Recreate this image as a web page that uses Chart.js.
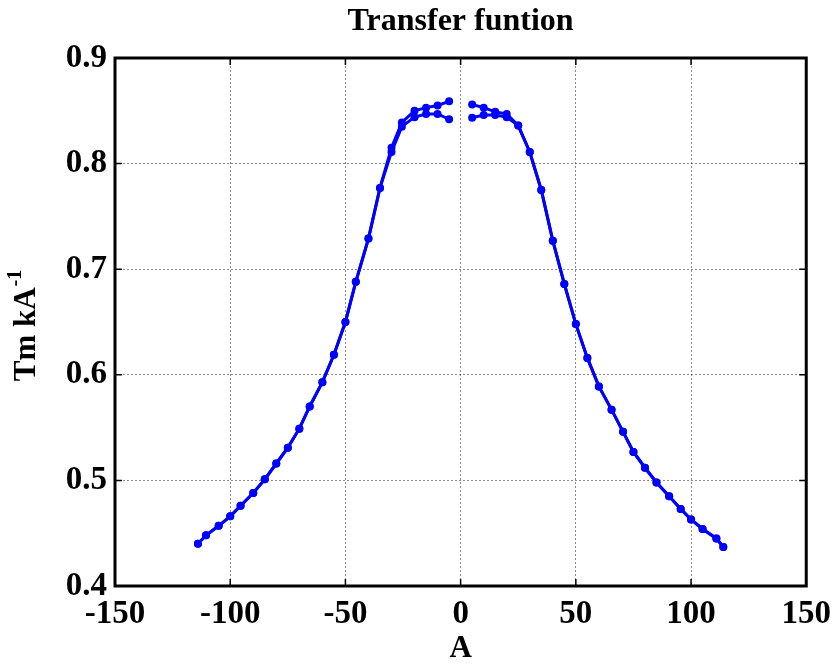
<!DOCTYPE html>
<html>
<head>
<meta charset="utf-8">
<script src="https://cdn.jsdelivr.net/npm/chart.js@4/dist/chart.umd.min.js"></script>
<style>
  html, body { margin: 0; padding: 0; background: #fff; }
  #wrap { width: 840px; height: 664px; }
</style>
</head>
<body>
<div id="wrap"><canvas id="res-canvas"></canvas></div>
<script>
// values
const leftA = [-114, -110.5, -105, -100, -95.5, -90, -85, -80, -75, -70, -65.5, -60, -55, -50, -45.5, -40, -35, -30, -25.5, -20, -15, -10, -5];
const leftUpper = [0.440, 0.448, 0.457, 0.466, 0.476, 0.488, 0.501, 0.516, 0.531, 0.549, 0.570, 0.593, 0.619, 0.650, 0.688, 0.729, 0.777, 0.815, 0.839, 0.850, 0.853, 0.855, 0.859];
const leftLower = [0.440, 0.448, 0.457, 0.466, 0.476, 0.488, 0.501, 0.516, 0.531, 0.549, 0.570, 0.593, 0.619, 0.650, 0.688, 0.729, 0.777, 0.811, 0.835, 0.844, 0.847, 0.847, 0.842];

const rightA = [5, 10, 15, 20, 25, 30, 35, 40, 45, 50, 55, 60, 65.5, 70.5, 75, 80, 85, 90.5, 95.5, 100, 105, 111, 114];
const rightUpper = [0.856, 0.853, 0.849, 0.847, 0.836, 0.811, 0.775, 0.727, 0.686, 0.648, 0.616, 0.589, 0.567, 0.546, 0.527, 0.512, 0.498, 0.485, 0.473, 0.463, 0.454, 0.445, 0.437];
const rightLower = [0.8435, 0.846, 0.846, 0.844, 0.836, 0.811, 0.775, 0.727, 0.686, 0.648, 0.616, 0.589, 0.567, 0.546, 0.527, 0.512, 0.498, 0.485, 0.473, 0.463, 0.454, 0.445, 0.437];

const xTicks = [-150, -100, -50, 0, 50, 100, 150];
const yTicks = [0.4, 0.5, 0.6, 0.7, 0.8, 0.9];

const chartTitle = 'Transfer funtion';
const fontFamily = '"Liberation Serif", "Times New Roman", serif';

function toPoints(xs, ys) {
  return xs.map((x, i) => ({ x: x, y: ys[i] }));
}

function series(xs, ys) {
  return {
    data: toPoints(xs, ys),
    showLine: true,
    borderColor: '#0000ff',
    backgroundColor: '#0000ff',
    borderWidth: 3,
    pointRadius: 4,
    pointHoverRadius: 4,
    pointBorderWidth: 0,
    tension: 0
  };
}

// box, inward ticks, title over the plot and the y title with superscript
const matlabAxes = {
  id: 'matlabAxes',
  afterDraw(chart) {
    const ctx = chart.ctx;
    const a = chart.chartArea;
    const xs = chart.scales.x, ys = chart.scales.y;
    ctx.save();
    ctx.strokeStyle = '#000';
    ctx.lineWidth = 1.5;
    xTicks.forEach(v => {
      const px = xs.getPixelForValue(v);
      ctx.beginPath();
      ctx.moveTo(px, a.bottom); ctx.lineTo(px, a.bottom - 7);
      ctx.moveTo(px, a.top); ctx.lineTo(px, a.top + 7);
      ctx.stroke();
    });
    yTicks.forEach(v => {
      const py = ys.getPixelForValue(v);
      ctx.beginPath();
      ctx.moveTo(a.left, py); ctx.lineTo(a.left + 7, py);
      ctx.moveTo(a.right, py); ctx.lineTo(a.right - 7, py);
      ctx.stroke();
    });
    ctx.lineWidth = 3;
    ctx.strokeRect(a.left, a.top, a.right - a.left, a.bottom - a.top);

    ctx.fillStyle = '#000';
    ctx.textBaseline = 'middle';

    // title centred over the plot
    ctx.font = 'bold 32px ' + fontFamily;
    ctx.textAlign = 'center';
    ctx.fillText(chartTitle, (a.left + a.right) / 2, 22);

    // y title
    ctx.translate(27, 326);
    ctx.rotate(-Math.PI / 2);
    const main = 'Tm kA';
    ctx.font = 'bold 31px ' + fontFamily;
    const w1 = ctx.measureText(main).width;
    ctx.font = 'bold 20px ' + fontFamily;
    const w2 = ctx.measureText('-1').width;
    const x0 = -(w1 + w2) / 2;
    ctx.font = 'bold 31px ' + fontFamily;
    ctx.textAlign = 'left';
    ctx.fillText(main, x0, 0);
    ctx.font = 'bold 20px ' + fontFamily;
    ctx.fillText('-1', x0 + w1 + 1, -11);
    ctx.restore();
  }
};

const ctx = document.getElementById('res-canvas').getContext('2d');
new Chart(ctx, {
  type: 'scatter',
  data: {
    datasets: [
      series(leftA, leftUpper),
      series(leftA, leftLower),
      series(rightA, rightUpper),
      series(rightA, rightLower)
    ]
  },
  options: {
    responsive: true,
    maintainAspectRatio: false,
    animation: false,
    layout: { padding: { left: 0, right: 31, top: 58, bottom: 0 } },
    plugins: {
      legend: { display: false },
      tooltip: { enabled: false },
      title: { display: false }
    },
    scales: {
      x: {
        type: 'linear',
        min: -150,
        max: 150,
        afterBuildTicks(scale) { scale.ticks = xTicks.map(v => ({ value: v })); },
        afterFit(scale) { scale.height = 78; },
        ticks: {
          color: '#000',
          padding: 9,
          maxRotation: 0,
          font: { family: fontFamily, size: 33, weight: 'bold' }
        },
        grid: { color: 'rgba(0,0,0,0.45)', lineWidth: 1, drawTicks: false },
        border: { display: false, dash: [2, 2] },
        title: {
          display: true,
          text: 'A',
          color: '#000',
          padding: { top: 0, bottom: 0 },
          font: { family: fontFamily, size: 31, weight: 'bold', lineHeight: 1.0 }
        }
      },
      y: {
        type: 'linear',
        min: 0.4,
        max: 0.9,
        afterBuildTicks(scale) { scale.ticks = yTicks.map(v => ({ value: v })); },
        afterFit(scale) { scale.width = 115; },
        ticks: {
          color: '#000',
          padding: 8,
          callback: v => v.toFixed(1),
          font: { family: fontFamily, size: 33, weight: 'bold' }
        },
        grid: { color: 'rgba(0,0,0,0.45)', lineWidth: 1, drawTicks: false },
        border: { display: false, dash: [2, 2] }
      }
    }
  },
  plugins: [matlabAxes]
});
</script>
</body>
</html>
